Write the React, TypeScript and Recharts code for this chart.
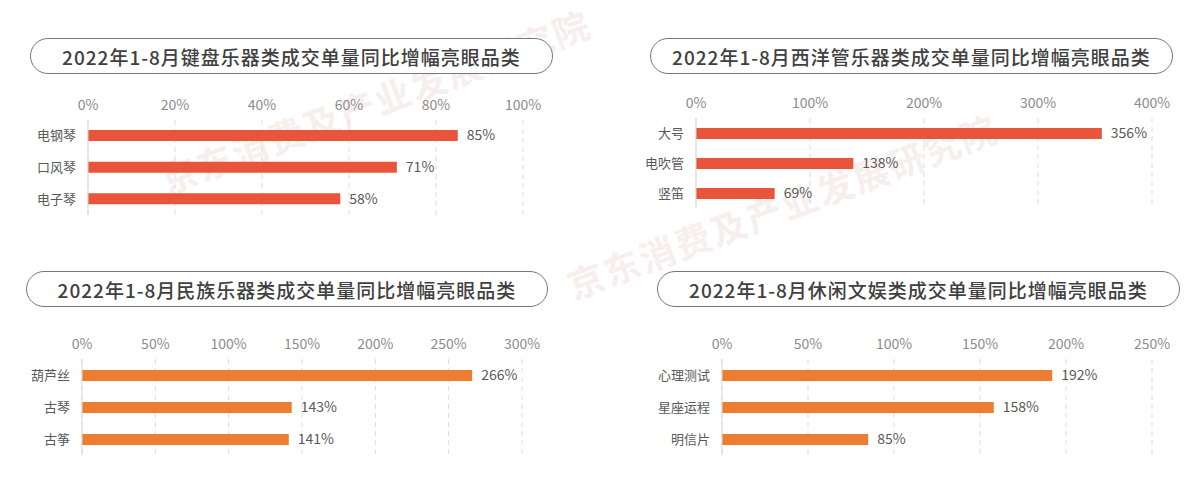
import React from 'react';
import { BarChart, Bar, XAxis, YAxis, CartesianGrid, LabelList } from 'recharts';

// 键盘乐器
const keyboardCats = ['电钢琴', '口风琴', '电子琴'];
const keyboardVals = [85, 71, 58];
const keyboardTicks = [0, 20, 40, 60, 80, 100];

// 西洋管乐器
const brassCats = ['大号', '电吹管', '竖笛'];
const brassVals = [356, 138, 69];
const brassTicks = [0, 100, 200, 300, 400];

// 民族乐器
const folkCats = ['葫芦丝', '古琴', '古筝'];
const folkVals = [266, 143, 141];
const folkTicks = [0, 50, 100, 150, 200, 250, 300];

// 休闲文娱
const leisureCats = ['心理测试', '星座运程', '明信片'];
const leisureVals = [192, 158, 85];
const leisureTicks = [0, 50, 100, 150, 200, 250];

const titles = [
  '2022年1-8月键盘乐器类成交单量同比增幅亮眼品类',
  '2022年1-8月西洋管乐器类成交单量同比增幅亮眼品类',
  '2022年1-8月民族乐器类成交单量同比增幅亮眼品类',
  '2022年1-8月休闲文娱类成交单量同比增幅亮眼品类',
];

const watermark = '京东消费及产业发展研究院';

const FONT = '"Noto Sans CJK SC", "Noto Sans", sans-serif';
const RED = '#E8553A';
const ORANGE = '#ED7D31';

const pct = (v: number) => `${v}%`;

type PanelProps = {
  cats: string[];
  vals: number[];
  ticks: number[];
  color: string;
  left: number;
  top: number;
  height: number;
  margin: { top: number; right: number; bottom: number; left: number };
  yWidth: number;
};

const Panel = ({ cats, vals, ticks, color, left, top, height, margin, yWidth }: PanelProps) => {
  const data = cats.map((name, i) => ({ name, value: vals[i] }));
  return (
    <div style={{ position: 'absolute', left, top }}>
      <BarChart width={600} height={height} data={data} layout="vertical" margin={margin}>
        <CartesianGrid horizontal={false} stroke="#dcdcdc" strokeDasharray="5 4" />
        <XAxis
          type="number"
          orientation="top"
          domain={[0, ticks[ticks.length - 1]]}
          ticks={ticks}
          interval={0}
          tickFormatter={pct}
          axisLine={false}
          tickLine={false}
          height={30}
          tickMargin={4}
          tick={{ fill: '#8c8c8c', fontSize: 14, fontFamily: FONT }}
        />
        <YAxis
          type="category"
          dataKey="name"
          width={yWidth}
          axisLine={{ stroke: '#d9d9d9' }}
          tickLine={false}
          tickMargin={6}
          tick={{ fill: '#595959', fontSize: 13, fontFamily: FONT }}
        />
        <Bar dataKey="value" fill={color} barSize={11} isAnimationActive={false}>
          <LabelList
            dataKey="value"
            position="right"
            offset={9}
            formatter={(v: any) => pct(v)}
            style={{ fill: '#595959', fontSize: 14, fontFamily: FONT }}
          />
        </Bar>
      </BarChart>
    </div>
  );
};

const Pill = ({ text, left, top, width }: { text: string; left: number; top: number; width: number }) => (
  <div
    style={{
      position: 'absolute',
      left,
      top,
      width,
      height: 36,
      boxSizing: 'border-box',
      border: '1.5px solid #777',
      borderRadius: 18,
      background: '#fff',
      display: 'flex',
      alignItems: 'center',
      justifyContent: 'center',
      fontFamily: FONT,
      fontSize: 19,
      letterSpacing: 1,
      fontWeight: 500,
      color: '#404040',
    }}
  >
    {text}
  </div>
);

export default function App() {
  return (
    <div
      style={{
        position: 'absolute',
        left: 0,
        top: 0,
        width: 1200,
        height: 497,
        background: '#fff',
        overflow: 'hidden',
      }}
    >
      <svg width={1200} height={497} style={{ position: 'absolute', left: 0, top: 0 }}>
        <text
          x={167}
          y={195}
          transform="rotate(-20.5 167 195)"
          fill="#f7efed"
          fontSize={36}
          fontWeight="bold"
          letterSpacing={2}
          fontFamily={FONT}
        >
          {watermark}
        </text>
        <text
          x={574}
          y={300}
          transform="rotate(-20.5 574 300)"
          fill="#f7efed"
          fontSize={36}
          fontWeight="bold"
          letterSpacing={2}
          fontFamily={FONT}
        >
          {watermark}
        </text>
      </svg>

      <Pill text={titles[0]} left={30} top={38} width={523} />
      <Pill text={titles[1]} left={650} top={38} width={523} />
      <Pill text={titles[2]} left={26} top={271} width={522} />
      <Pill text={titles[3]} left={657} top={271} width={523} />

      <Panel
        cats={keyboardCats}
        vals={keyboardVals}
        ticks={keyboardTicks}
        color={RED}
        left={0}
        top={0}
        height={230}
        margin={{ top: 90, right: 77, bottom: 15, left: 0 }}
        yWidth={88}
      />
      <Panel
        cats={brassCats}
        vals={brassVals}
        ticks={brassTicks}
        color={RED}
        left={600}
        top={0}
        height={230}
        margin={{ top: 88, right: 48, bottom: 22, left: 0 }}
        yWidth={96}
      />
      <Panel
        cats={folkCats}
        vals={folkVals}
        ticks={folkTicks}
        color={ORANGE}
        left={0}
        top={235}
        height={262}
        margin={{ top: 94, right: 78, bottom: 42, left: 0 }}
        yWidth={82}
      />
      <Panel
        cats={leisureCats}
        vals={leisureVals}
        ticks={leisureTicks}
        color={ORANGE}
        left={600}
        top={235}
        height={262}
        margin={{ top: 94, right: 48, bottom: 42, left: 0 }}
        yWidth={122}
      />
    </div>
  );
}
